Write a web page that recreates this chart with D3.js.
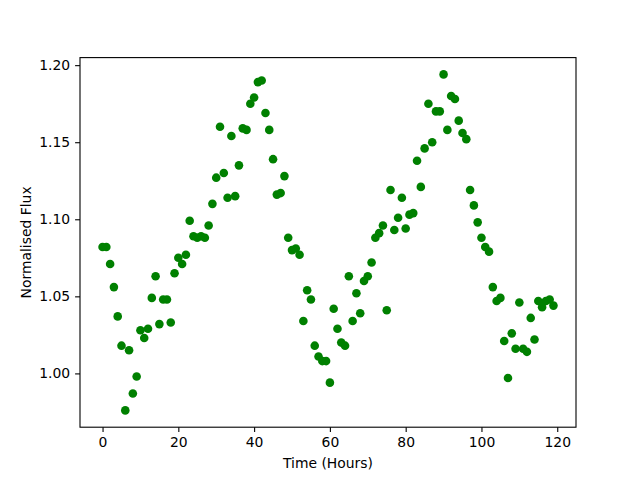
<!DOCTYPE html>
<html>
<head>
<meta charset="utf-8">
<script src="https://cdn.jsdelivr.net/npm/d3@7"></script>
<style>
  body { margin: 0; background: #fff; }
  svg text { font-family: "DejaVu Sans", sans-serif; }
</style>
</head>
<body>
<div id="chart"></div>
<script>
// time in hours and normalised flux
var hours = d3.range(0, 120);
var flux = [
  1.082, 1.082, 1.071, 1.056, 1.037, 1.018, 0.976, 1.015, 0.987, 0.998,
  1.028, 1.023, 1.029, 1.049, 1.063, 1.032, 1.048, 1.048, 1.033, 1.065,
  1.075, 1.071, 1.077, 1.099, 1.089, 1.088, 1.089, 1.088, 1.096, 1.110,
  1.127, 1.160, 1.130, 1.114, 1.154, 1.115, 1.135, 1.159, 1.158, 1.175,
  1.179, 1.189, 1.190, 1.169, 1.158, 1.139, 1.116, 1.117, 1.128, 1.088,
  1.080, 1.081, 1.077, 1.034, 1.054, 1.048, 1.018, 1.011, 1.008, 1.008,
  0.994, 1.042, 1.029, 1.020, 1.018, 1.063, 1.034, 1.052, 1.039, 1.060,
  1.063, 1.072, 1.088, 1.091, 1.096, 1.041, 1.119, 1.093, 1.101, 1.114,
  1.094, 1.103, 1.104, 1.138, 1.121, 1.146, 1.175, 1.150, 1.170, 1.170,
  1.194, 1.158, 1.180, 1.178, 1.164, 1.156, 1.152, 1.119, 1.109, 1.098,
  1.088, 1.082, 1.079, 1.056, 1.047, 1.049, 1.021, 0.997, 1.026, 1.016,
  1.046, 1.016, 1.014, 1.036, 1.022, 1.047, 1.043, 1.047, 1.048, 1.044
];
var xTicks = [0, 20, 40, 60, 80, 100, 120];
var yTicks = [1.00, 1.05, 1.10, 1.15, 1.20];

var width = 640, height = 480;
var margin = {top: 57.6, right: 64, bottom: 52.8, left: 80};
var w = width - margin.left - margin.right,
    h = height - margin.top - margin.bottom;

var data = hours.map(function(t, i) { return [t, flux[i]]; });

// matplotlib style 5% padding
var xe = d3.extent(hours), ye = d3.extent(flux);
var xp = (xe[1] - xe[0]) * 0.05, yp = (ye[1] - ye[0]) * 0.05;
var x = d3.scaleLinear().domain([xe[0] - xp, xe[1] + xp]).range([0, w]);
var y = d3.scaleLinear().domain([ye[0] - yp, ye[1] + yp]).range([h, 0]);

var svg = d3.select("#chart").append("svg")
    .attr("width", width)
    .attr("height", height)
  .append("g")
    .attr("transform", "translate(" + margin.left + "," + margin.top + ")");

svg.selectAll("circle")
    .data(data)
    .enter().append("circle")
    .attr("cx", function(d) { return x(d[0]); })
    .attr("cy", function(d) { return y(d[1]); })
    .attr("r", 4.3)
    .style("fill", "#008000");

// frame
svg.append("rect")
    .attr("width", w)
    .attr("height", h)
    .style("fill", "none")
    .style("stroke", "#000")
    .style("stroke-width", 1.1);

// AXIS
var xAxis = svg.append("g")
    .attr("transform", "translate(0," + h + ")")
    .call(d3.axisBottom(x).tickValues(xTicks).tickSize(4.9).tickPadding(4.9).tickFormat(d3.format("d")));
var yAxis = svg.append("g")
    .call(d3.axisLeft(y).tickValues(yTicks).tickSize(4.9).tickPadding(4.9).tickFormat(d3.format(".2f")));

[xAxis, yAxis].forEach(function(a) {
  a.select(".domain").remove();
  a.selectAll("line").style("stroke", "#000").style("stroke-width", 1.1);
  a.selectAll("text").style("font-size", "13.9px").style("fill", "#000")
    .style("font-family", "'DejaVu Sans', sans-serif");
});

// AXIS LABELS
svg.append("text")
    .attr("x", w / 2)
    .attr("y", h + 41)
    .style("text-anchor", "middle")
    .style("font-size", "13.9px")
    .text("Time (Hours)");

svg.append("text")
    .attr("transform", "rotate(-90)")
    .attr("x", -h / 2)
    .attr("y", -49)
    .style("text-anchor", "middle")
    .style("font-size", "13.9px")
    .text("Normalised Flux");
</script>
</body>
</html>
